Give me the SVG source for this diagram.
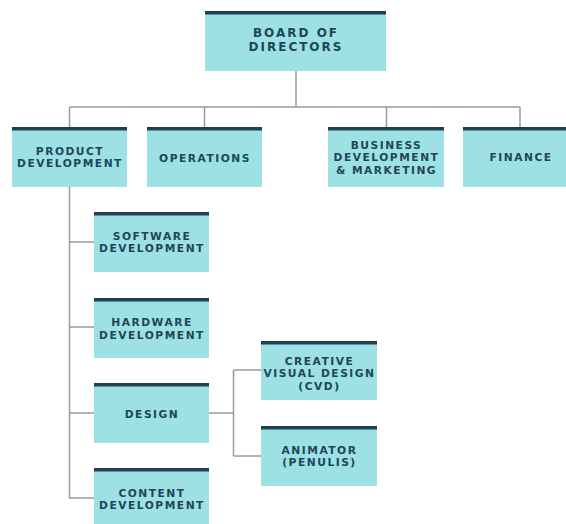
<svg xmlns="http://www.w3.org/2000/svg" width="566" height="524" viewBox="0 0 566 524">
<style>
.box{fill:#9de1e5}
.bar{fill:#1d4153}
.t{font-family:"DejaVu Sans","Open Sans",sans-serif;font-weight:700;fill:#1f4558;text-anchor:middle;font-size:10.7px;letter-spacing:1.5px}
.big{font-size:12px;letter-spacing:2px}
.ln{stroke:#9a9a9a;stroke-width:1.5;fill:none}
</style>
<rect width="566" height="524" fill="#ffffff"/>
<g id="connectors">
<path class="ln" d="M296 71V107M69.5 107H520M69.5 107V127M204.5 107V127M386.5 107V127M520 107V127"/>
<path class="ln" d="M69.5 187V498H94M69.5 242H94M69.5 327H94M69.5 413H94"/>
<path class="ln" d="M209 413H233.5M233.5 370V456M233.5 370H261M233.5 456H261"/>
</g>
<g id="board"><rect class="box" x="205" y="11" width="181" height="60"/><rect class="bar" x="205" y="11" width="181" height="3.5"/><text class="t big" x="296" y="36.5">BOARD OF</text><text class="t big" x="296" y="50.5">DIRECTORS</text></g>
<g id="product"><rect class="box" x="12" y="127" width="115" height="60"/><rect class="bar" x="12" y="127" width="115" height="3.5"/><text class="t" x="70" y="154.5">PRODUCT</text><text class="t" x="70" y="167">DEVELOPMENT</text></g>
<g id="operations"><rect class="box" x="147" y="127" width="115" height="60"/><rect class="bar" x="147" y="127" width="115" height="3.5"/><text class="t" x="205" y="161.5">OPERATIONS</text></g>
<g id="business"><rect class="box" x="328" y="127" width="116" height="60"/><rect class="bar" x="328" y="127" width="116" height="3.5"/><text class="t" x="386.5" y="148.5">BUSINESS</text><text class="t" x="386.5" y="161">DEVELOPMENT</text><text class="t" x="386.5" y="173.5">&amp; MARKETING</text></g>
<g id="finance"><rect class="box" x="463" y="127" width="103" height="60"/><rect class="bar" x="463" y="127" width="103" height="3.5"/><text class="t" x="521" y="161">FINANCE</text></g>
<g id="software"><rect class="box" x="94" y="212" width="115" height="60"/><rect class="bar" x="94" y="212" width="115" height="3.5"/><text class="t" x="152" y="239.5">SOFTWARE</text><text class="t" x="152" y="252">DEVELOPMENT</text></g>
<g id="hardware"><rect class="box" x="94" y="298" width="115" height="60"/><rect class="bar" x="94" y="298" width="115" height="3.5"/><text class="t" x="152" y="326">HARDWARE</text><text class="t" x="152" y="338.5">DEVELOPMENT</text></g>
<g id="design"><rect class="box" x="94" y="383" width="115" height="60"/><rect class="bar" x="94" y="383" width="115" height="3.5"/><text class="t" x="152" y="417.5">DESIGN</text></g>
<g id="content"><rect class="box" x="94" y="468" width="115" height="60"/><rect class="bar" x="94" y="468" width="115" height="3.5"/><text class="t" x="152" y="496.5">CONTENT</text><text class="t" x="152" y="509">DEVELOPMENT</text></g>
<g id="cvd"><rect class="box" x="261" y="341" width="116" height="59"/><rect class="bar" x="261" y="341" width="116" height="3.5"/><text class="t" x="319.5" y="364.5">CREATIVE</text><text class="t" x="319.5" y="377">VISUAL DESIGN</text><text class="t" x="319.5" y="389.5">(CVD)</text></g>
<g id="animator"><rect class="box" x="261" y="426" width="116" height="60"/><rect class="bar" x="261" y="426" width="116" height="3.5"/><text class="t" x="319.5" y="453.5">ANIMATOR</text><text class="t" x="319.5" y="466">(PENULIS)</text></g>
</svg>
